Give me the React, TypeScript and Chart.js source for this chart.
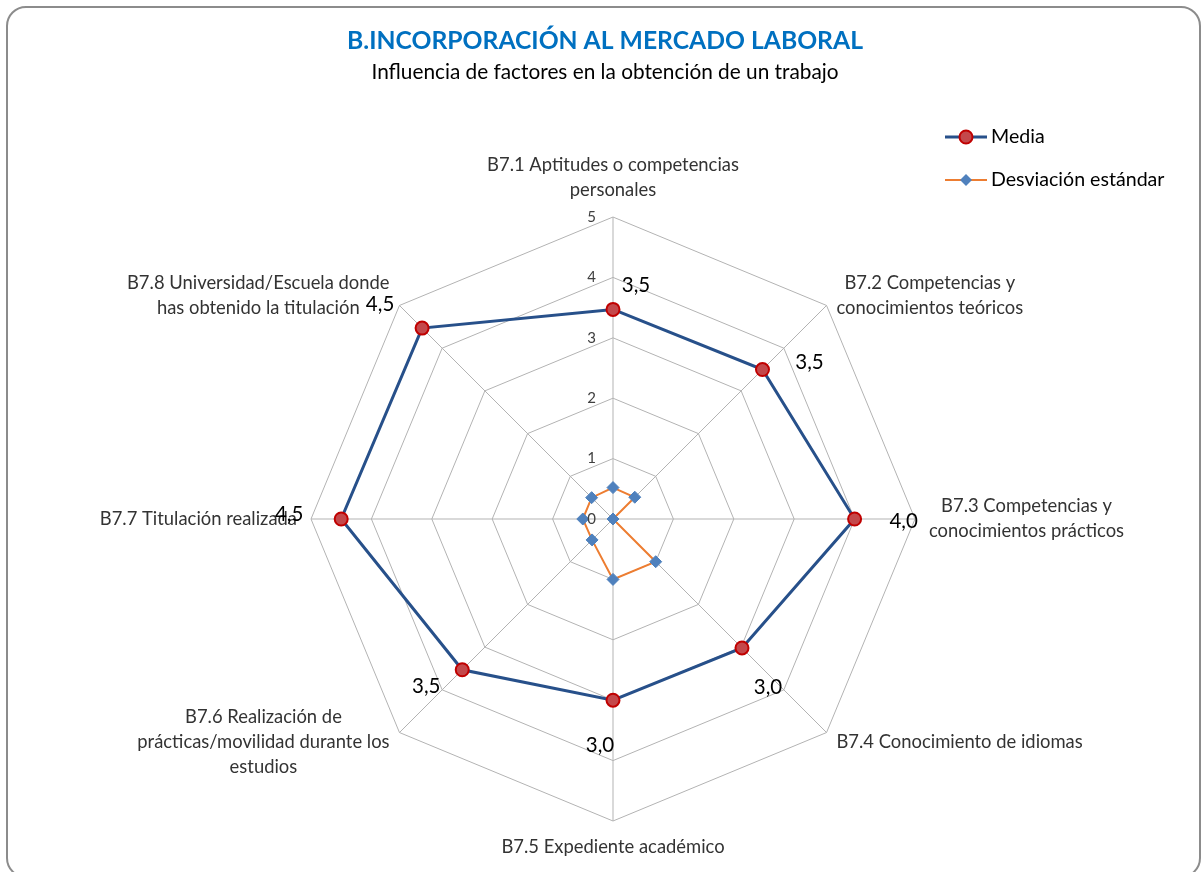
import React, { useEffect, useRef } from "react";
import { Chart, registerables } from "chart.js";

Chart.register(...registerables);

const categories: string[][] = [
  ["B7.1 Aptitudes o competencias", "personales"],
  ["B7.2 Competencias y", "conocimientos teóricos"],
  ["B7.3 Competencias y", "conocimientos prácticos"],
  ["B7.4 Conocimiento de idiomas"],
  ["B7.5 Expediente académico"],
  ["B7.6 Realización de", "prácticas/movilidad durante los", "estudios"],
  ["B7.7 Titulación realizada"],
  ["B7.8 Universidad/Escuela donde", "has obtenido la titulación"],
];
const mediaValues = [3.47, 3.5, 4.0, 3.02, 3.0, 3.53, 4.5, 4.47];
const desviacionValues = [0.52, 0.51, 0.0, 1.0, 1.0, 0.49, 0.5, 0.5];
const tickValues = [0, 1, 2, 3, 4, 5];
const seriesNames = ["Media", "Desviación estándar"];
const titleText = "B.INCORPORACIÓN AL MERCADO LABORAL";
const subtitleText = "Influencia de factores en la obtención de un trabajo";

const FONT = "Lato, 'Liberation Sans', sans-serif";
const MEDIA_LINE = "#27508A";
const MEDIA_FILL = "#C4484B";
const MEDIA_BORDER = "#C00000";
const DESV_LINE = "#ED7D31";
const DESV_POINT = "#4F81BD";
const GRID = "#B3B3B3";

// label offsets (px) relative to each Media point
const labelOffsets: [number, number][] = [
  [23, -24], [47, -7], [49, 2], [26, 39], [-13, 45], [-36, 17], [-52, -5], [-42, -24],
];

const decorPlugin = {
  id: "decor",
  afterDatasetsDraw(chart: any) {
    const ctx: CanvasRenderingContext2D = chart.ctx;
    const r = chart.scales.r;
    ctx.save();
    // Title
    ctx.textAlign = "center";
    ctx.textBaseline = "middle";
    ctx.fillStyle = "#0070C0";
    ctx.font = `bold 24.7px ${FONT}`;
    ctx.fillText(titleText, 605, 41);
    ctx.fillStyle = "#000000";
    ctx.font = `20.8px ${FONT}`;
    ctx.fillText(subtitleText, 605, 72);

    // Tick labels
    ctx.font = `15px ${FONT}`;
    ctx.fillStyle = "#404040";
    ctx.textAlign = "right";
    tickValues.forEach((v) => {
      const d = r.getDistanceFromCenterForValue(v);
      ctx.fillText(String(v), r.xCenter - 17, r.yCenter - d);
    });

    // Point labels
    ctx.font = `18.4px ${FONT}`;
    ctx.fillStyle = "#333333";
    ctx.textAlign = "center";
    const n = categories.length;
    const lh = 25;
    categories.forEach((lines, i) => {
      const angle = -Math.PI / 2 + (i * 2 * Math.PI) / n;
      const cos = Math.cos(angle);
      const sin = Math.sin(angle);
      const p = r.getPointPosition(i, r.drawingArea + 14);
      const w = Math.max(...lines.map((l) => ctx.measureText(l).width));
      const h = lines.length * lh;
      let cx = p.x;
      if (cos > 0.1) cx = p.x + w / 2;
      else if (cos < -0.1) cx = p.x - w / 2;
      let top: number;
      if (Math.abs(cos) > 0.1) top = p.y - h / 2;
      else if (sin < 0) top = p.y - h;
      else top = p.y;
      lines.forEach((l, k) => ctx.fillText(l, cx, top + lh * (k + 0.5)));
    });

    // Data labels for Media
    const meta = chart.getDatasetMeta(0);
    ctx.font = `20.5px ${FONT}`;
    ctx.fillStyle = "#000000";
    meta.data.forEach((el: any, i: number) => {
      const [dx, dy] = labelOffsets[i];
      ctx.fillText(mediaValues[i].toFixed(1).replace(".", ","), el.x + dx, el.y + dy);
    });

    // Legend
    ctx.textAlign = "left";
    ctx.font = `19.6px ${FONT}`;
    // Media
    ctx.strokeStyle = MEDIA_LINE;
    ctx.lineWidth = 3;
    ctx.beginPath();
    ctx.moveTo(945, 137);
    ctx.lineTo(987, 137);
    ctx.stroke();
    ctx.beginPath();
    ctx.arc(966, 137, 6.5, 0, Math.PI * 2);
    ctx.fillStyle = MEDIA_FILL;
    ctx.fill();
    ctx.lineWidth = 2;
    ctx.strokeStyle = MEDIA_BORDER;
    ctx.stroke();
    ctx.fillStyle = "#000000";
    ctx.fillText(seriesNames[0], 991, 137);
    // Desviación
    ctx.strokeStyle = DESV_LINE;
    ctx.lineWidth = 2;
    ctx.beginPath();
    ctx.moveTo(945, 180);
    ctx.lineTo(987, 180);
    ctx.stroke();
    ctx.beginPath();
    ctx.moveTo(966, 174);
    ctx.lineTo(972, 180);
    ctx.lineTo(966, 186);
    ctx.lineTo(960, 180);
    ctx.closePath();
    ctx.fillStyle = DESV_POINT;
    ctx.fill();
    ctx.fillStyle = "#000000";
    ctx.fillText(seriesNames[1], 991, 180);
    ctx.restore();
  },
};

export default function App() {
  const ref = useRef<HTMLCanvasElement | null>(null);
  useEffect(() => {
    if (!ref.current) return;
    const chart = new Chart(ref.current, {
      type: "radar",
      data: {
        labels: categories,
        datasets: [
          {
            label: seriesNames[0],
            data: mediaValues,
            borderColor: MEDIA_LINE,
            borderWidth: 3,
            backgroundColor: MEDIA_FILL,
            fill: false,
            pointStyle: "circle",
            pointRadius: 6.5,
            pointBackgroundColor: MEDIA_FILL,
            pointBorderColor: MEDIA_BORDER,
            pointBorderWidth: 2,
          },
          {
            label: seriesNames[1],
            data: desviacionValues,
            borderColor: DESV_LINE,
            borderWidth: 2,
            backgroundColor: DESV_POINT,
            fill: false,
            pointStyle: "rectRot",
            pointRadius: 6,
            pointBackgroundColor: DESV_POINT,
            pointBorderColor: DESV_POINT,
            pointBorderWidth: 1,
          },
        ],
      },
      options: {
        responsive: false,
        animation: false,
        layout: { padding: { left: 311, right: 287, top: 217, bottom: 50 } },
        plugins: {
          legend: { display: false },
          title: { display: false },
          tooltip: { enabled: false },
        },
        scales: {
          r: {
            min: 0,
            max: 5,
            ticks: { stepSize: 1, display: false },
            grid: { color: GRID, lineWidth: 1 },
            angleLines: { color: GRID, lineWidth: 1 },
            pointLabels: { display: false },
          },
        },
      },
      plugins: [decorPlugin],
    });
    return () => chart.destroy();
  }, []);

  return (
    <div
      style={{
        position: "absolute",
        left: 0,
        top: 0,
        width: 1203,
        height: 872,
        overflow: "hidden",
        background: "#ffffff",
      }}
    >
      <div
        style={{
          position: "absolute",
          left: 6,
          top: 6,
          width: 1195,
          height: 872,
          boxSizing: "border-box",
          border: "2px solid #8c8c8c",
          borderRadius: 20,
        }}
      />
      <canvas
        ref={ref}
        width={1203}
        height={872}
        style={{ position: "absolute", left: 0, top: 0, width: 1203, height: 872, display: "block" }}
      />
    </div>
  );
}
